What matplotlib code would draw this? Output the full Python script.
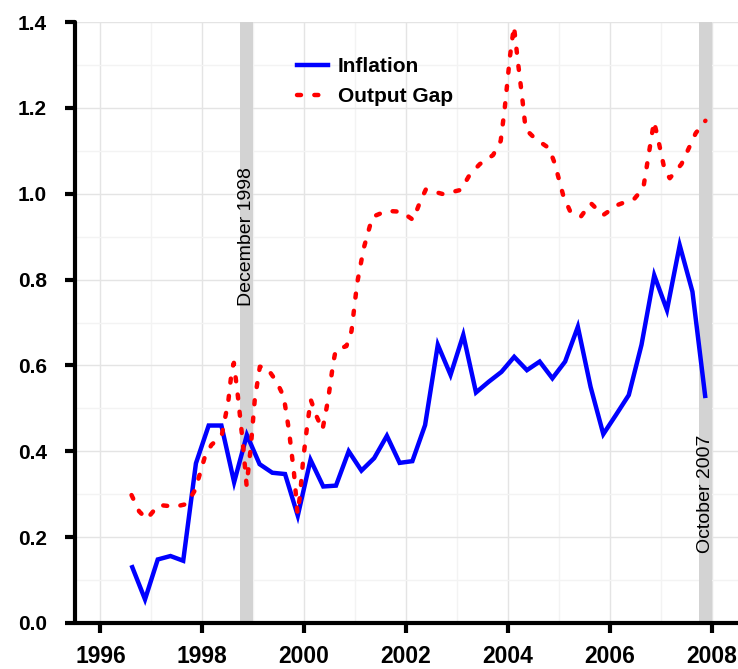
import matplotlib
matplotlib.use("Agg")
import matplotlib.pyplot as plt
from matplotlib.ticker import MultipleLocator, FormatStrFormatter
import numpy as np

plt.rcParams['font.family'] = ['Liberation Sans', 'DejaVu Sans']

# Inflation: quarterly, starting 1996 Q3
infl_start = 1996.625
inflation = [0.13, 0.055, 0.148, 0.156, 0.145, 0.372, 0.46, 0.46, 0.328, 0.438,
             0.37, 0.35, 0.347, 0.25, 0.38, 0.318, 0.32, 0.40, 0.355, 0.384,
             0.436, 0.373, 0.377, 0.461, 0.648, 0.578, 0.671, 0.537, 0.562, 0.585,
             0.62, 0.589, 0.609, 0.57, 0.609, 0.69, 0.55, 0.44, 0.485, 0.531,
             0.648, 0.81, 0.729, 0.88, 0.772, 0.529]
infl_dates = [infl_start + 0.25 * i for i in range(len(inflation))]

gap_dates = [1996.61, 1996.76, 1996.91, 1997.14, 1997.46, 1997.69, 1997.86, 1998.05,
             1998.18, 1998.38, 1998.51, 1998.58, 1998.62, 1998.70, 1998.80, 1998.87,
             1998.95, 1999.03, 1999.13, 1999.26, 1999.46, 1999.60, 1999.70, 1999.80,
             1999.87, 1999.92, 1999.98, 2000.06, 2000.13, 2000.25, 2000.36, 2000.47,
             2000.57, 2000.62, 2000.83, 2000.93, 2001.04, 2001.17, 2001.34, 2001.62,
             2001.91, 2002.14, 2002.27, 2002.39, 2002.73, 2003.08, 2003.25, 2003.45,
             2003.71, 2003.86, 2003.94, 2004.04, 2004.12, 2004.20, 2004.28, 2004.35,
             2004.53, 2004.81, 2004.92, 2005.09, 2005.22, 2005.43, 2005.63, 2005.87,
             2006.16, 2006.49, 2006.66, 2006.87, 2006.94, 2007.08, 2007.18, 2007.41,
             2007.69, 2007.88]
output_gap = [0.298, 0.26, 0.242, 0.275, 0.271, 0.277, 0.31, 0.387,
              0.415, 0.436, 0.516, 0.59, 0.606, 0.527, 0.415, 0.32,
              0.407, 0.52, 0.597, 0.596, 0.562, 0.527, 0.45, 0.35,
              0.255, 0.298, 0.38, 0.46, 0.52, 0.48, 0.45, 0.52,
              0.605, 0.636, 0.645, 0.68, 0.791, 0.873, 0.946, 0.96,
              0.958, 0.939, 0.979, 1.01, 0.999, 1.009, 1.044, 1.069,
              1.09, 1.123, 1.20, 1.318, 1.39, 1.305, 1.226, 1.15,
              1.129, 1.106, 1.071, 0.995, 0.96, 0.946, 0.978, 0.95,
              0.974, 0.989, 1.013, 1.168, 1.133, 1.055, 1.036, 1.069,
              1.141, 1.17]

bands = [(1998.75, 1999.0), (2007.75, 2008.0)]
band_labels = ["December 1998", "October 2007"]
band_label_y = [0.9, 0.3]

xticks = [1996, 1998, 2000, 2002, 2004, 2006, 2008]

fig = plt.figure(figsize=(7.38, 6.69), dpi=100)
ax = fig.add_axes([75/738, 1 - 623/669, (738 - 75)/738, (623 - 22)/669])

ax.set_xlim(1995.5, 2008.52)
ax.set_ylim(0, 1.4)

ax.xaxis.set_major_locator(MultipleLocator(2))
ax.xaxis.set_minor_locator(MultipleLocator(1))
ax.yaxis.set_major_locator(MultipleLocator(0.2))
ax.yaxis.set_minor_locator(MultipleLocator(0.1))
ax.yaxis.set_major_formatter(FormatStrFormatter('%.1f'))
ax.set_xticks(xticks)
ax.set_xticklabels([str(t) for t in xticks])

ax.grid(which='major', color='#e4e4e4', linewidth=1.0, zorder=0)
ax.grid(which='minor', color='#f3f3f3', linewidth=1.0, zorder=0)
ax.set_axisbelow(True)

for (a, b), lab, ly in zip(bands, band_labels, band_label_y):
    ax.axvspan(a, b, color='#d3d3d3', zorder=1, linewidth=0)
    ax.text((a + b) / 2, ly, lab, rotation=90, ha='center', va='center',
            fontsize=14, color='black', zorder=5)

ax.plot(infl_dates, inflation, color='#0000ff', linewidth=3.2, label='Inflation',
        zorder=3, solid_joinstyle='miter')
ax.plot(gap_dates, output_gap, color='#ff0000', linewidth=3.2, label='Output Gap',
        zorder=4, dashes=(0.9, 3.0), dash_capstyle='round')

for s in ['top', 'right']:
    ax.spines[s].set_visible(False)
for s in ['left', 'bottom']:
    ax.spines[s].set_linewidth(3)
    ax.spines[s].set_color('black')
    ax.spines[s].set_capstyle('round')

ax.tick_params(which='major', direction='out', length=7, width=3, color='black')
ax.tick_params(which='minor', length=0)
ax.tick_params(axis='x', labelsize=16.5, pad=9)
ax.tick_params(axis='y', labelsize=15, pad=13)
for lab in ax.get_xticklabels() + ax.get_yticklabels():
    lab.set_fontweight('bold')

leg = ax.legend(loc='upper left', bbox_to_anchor=(0.335, 0.942), frameon=False,
                prop={'size': 15, 'weight': 'bold'}, handlelength=1.5,
                handletextpad=0.45, labelspacing=0.54, borderpad=0, borderaxespad=0)

fig.savefig('out.png', dpi=100)
